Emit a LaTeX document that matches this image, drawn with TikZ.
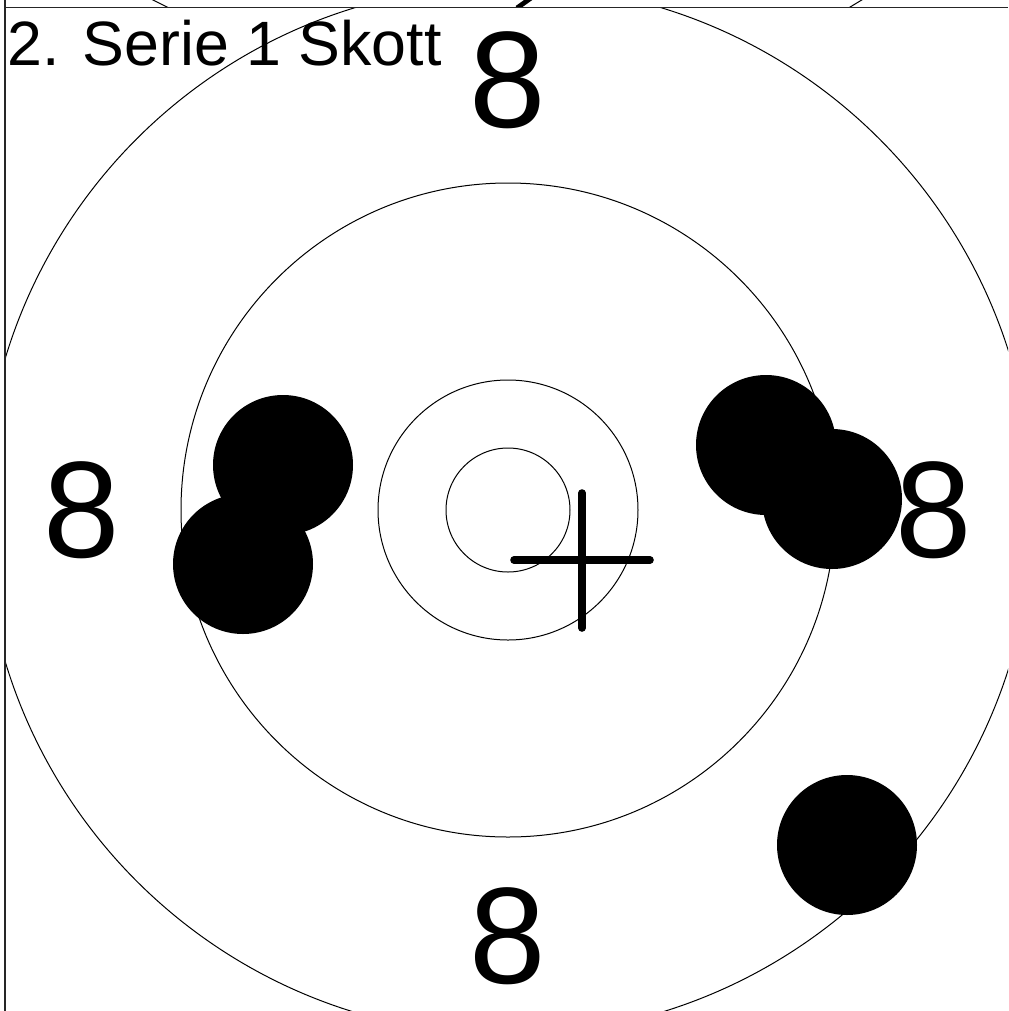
\documentclass[tikz,border=0pt]{standalone}
\usepackage{fontspec}
\setmainfont{Liberation Sans}
\begin{document}
\begin{tikzpicture}[x=0.75pt,y=-0.75pt,
  ring/.style={draw=black,line width=0.75pt},
  hole/.style={fill=black},
  ringlabel/.style={font=\fontsize{103}{103}\selectfont,inner sep=0pt,anchor=center},
  frameline/.style={draw=black!85,line width=1.1pt},
  crossline/.style={draw=black,line width=5.7pt,line cap=round},
  fragment/.style={draw=black,line width=0.75pt}]
\useasboundingbox (0,0) rectangle (1008,1011);
% fragments of the panel above
\begin{scope}
  \clip (5,0) rectangle (1008,7.5);
  \draw[fragment] (149,-2) -- (169,8);
  \draw[fragment] (865,-2) -- (848.5,8);
  \draw[draw=black,line width=3.6pt] (531,-2) -- (517,8);
\end{scope}
% target rings
\coordinate (c) at (508,510);
\begin{scope}
  \clip (5,7.5) rectangle (1008,1011);
  \draw[ring] (c) circle[radius=393.75pt];
  \draw[ring] (c) circle[radius=245.25pt];
  \draw[ring] (c) circle[radius=97.5pt];
  \draw[ring] (c) circle[radius=46.5pt];
\end{scope}
% shot holes
\fill[hole] (283,465) circle[radius=52.5pt];
\fill[hole] (243,564) circle[radius=52.5pt];
\fill[hole] (766,445) circle[radius=52.5pt];
\fill[hole] (832,499) circle[radius=52.5pt];
\fill[hole] (847,845) circle[radius=52.5pt];
% ring labels
\node[ringlabel] (ltop) at (508,80) {8};
\node[ringlabel] (lleft) at (82,510) {8};
\node[ringlabel] (lright) at (934,510) {8};
\node[ringlabel] (lbottom) at (508,936) {8};
% title
\node[anchor=base west,inner sep=0pt,font=\fontsize{47}{47}\selectfont] (title) at (7,65) {2. Serie 1 Skott};
% mean point of impact cross
\coordinate (mpi) at (582,560);
\draw[crossline] (514,560) -- (650,560);
\draw[crossline] (582,493) -- (582,628);
% frame
\draw[frameline] (5,0) -- (5,1011);
\draw[frameline] (5,7.5) -- (1008,7.5);
\end{tikzpicture}
\end{document}
